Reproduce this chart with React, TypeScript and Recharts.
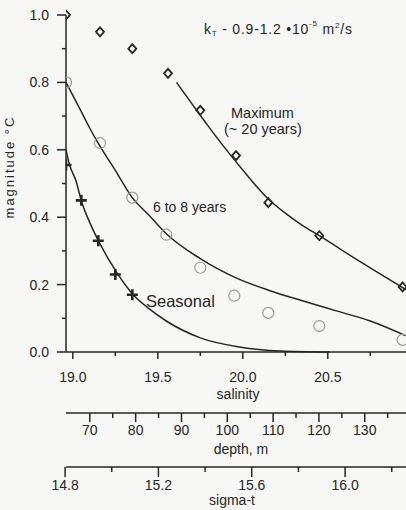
import { ComposedChart, Line, Scatter, XAxis, YAxis } from "recharts";

// tick values for the three stacked bottom scales and the y scale
const salinityTicks = [19.0, 19.25, 19.5, 19.75, 20.0, 20.25, 20.5, 20.75];
const salinityLabels = [19.0, 19.5, 20.0, 20.5];
const depthTicks = [70, 75, 80, 85, 90, 95, 100, 105, 110, 115, 120, 125, 130, 135];
const depthLabels = [70, 80, 90, 100, 110, 120, 130];
const sigmaTicks = [14.8, 15.0, 15.2, 15.4, 15.6, 15.8, 16.0, 16.2];
const sigmaLabels = [14.8, 15.2, 15.6, 16.0];
const magTicks = [0, 0.1, 0.2, 0.3, 0.4, 0.5, 0.6, 0.7, 0.8, 0.9, 1.0];
const magLabels = [0, 0.2, 0.4, 0.6, 0.8, 1.0];

// measured points
const maxSal = [18.96, 19.16, 19.35, 19.56, 19.75, 19.96, 20.15, 20.45, 20.94];
const maxVal = [1.0, 0.95, 0.9, 0.827, 0.717, 0.583, 0.443, 0.345, 0.193];
const midSal = [18.96, 19.16, 19.35, 19.55, 19.75, 19.95, 20.15, 20.45, 20.94];
const midVal = [0.8, 0.62, 0.458, 0.348, 0.25, 0.167, 0.116, 0.077, 0.036];
const seasSal = [18.96, 19.05, 19.15, 19.25, 19.35];
const seasVal = [0.555, 0.45, 0.33, 0.23, 0.17];

// fitted curves
const maxFitSal = [19.61, 19.7, 19.8, 19.9, 20.0, 20.08, 20.15, 20.25, 20.35, 20.45, 20.7, 20.96];
const maxFitVal = [0.8, 0.737, 0.668, 0.602, 0.54, 0.492, 0.454, 0.412, 0.376, 0.345, 0.265, 0.185];
const midFitSal = [18.96, 19.04, 19.1, 19.15, 19.25, 19.35, 19.45, 19.55, 19.75, 19.96, 20.16, 20.35, 20.55, 20.75, 20.96];
const midFitVal = [0.8, 0.723, 0.664, 0.619, 0.539, 0.458, 0.405, 0.351, 0.277, 0.22, 0.182, 0.152, 0.122, 0.092, 0.048];
const seasFitSal = [18.96, 18.98, 19.02, 19.05, 19.1, 19.16, 19.26, 19.35, 19.45, 19.55, 19.75, 19.98, 20.22, 20.51];
const seasFitVal = [0.6, 0.557, 0.506, 0.449, 0.384, 0.321, 0.235, 0.173, 0.128, 0.092, 0.042, 0.015, 0.003, 0.0];

const zip = (xs: number[], ys: number[]) => xs.map((s, i) => ({ s, v: ys[i] }));
// helper rows so the secondary scales get a domain
const depthRows = depthTicks.map((d) => ({ d, v: 0 }));
const sigmaRows = sigmaTicks.map((g) => ({ g, v: 0 }));

const ink = "#262626";
const font = "'Liberation Sans', Arial, sans-serif";

const isIn = (list: number[], v: number) => list.some((l) => Math.abs(l - v) < 1e-6);

const xTick = (labels: number[], major: number, minor: number, dy: number, digits: number) => (props: any) => {
  const { x, y, payload } = props;
  const big = isIn(labels, payload.value);
  return (
    <g>
      <line x1={x} x2={x} y1={y} y2={y + (big ? major : minor)} stroke={ink} strokeWidth={1.5} />
      {big && (
        <text x={x} y={y + dy} textAnchor="middle" fontSize={14} fontFamily={font} fill={ink}>
          {payload.value.toFixed(digits)}
        </text>
      )}
    </g>
  );
};

const yTick = (props: any) => {
  const { x, y, payload } = props;
  const big = isIn(magLabels, payload.value);
  return (
    <g>
      <line x1={x - (big ? 9 : 4)} x2={x} y1={y} y2={y} stroke={ink} strokeWidth={1.5} />
      {big && (
        <text x={x - 17} y={y + 5} textAnchor="end" fontSize={14} fontFamily={font} fill={ink}>
          {payload.value.toFixed(1)}
        </text>
      )}
    </g>
  );
};

const Diamond = (props: any) => {
  const { cx, cy } = props;
  return <path d={`M${cx},${cy - 4.5} L${cx + 4},${cy} L${cx},${cy + 4.5} L${cx - 4},${cy} Z`} fill="none" stroke={ink} strokeWidth={1.8} />;
};
const Ring = (props: any) => <circle cx={props.cx} cy={props.cy} r={5.5} fill="none" stroke="#9a9a9a" strokeWidth={1.2} />;
const Plus = (props: any) => {
  const { cx, cy } = props;
  return <path d={`M${cx - 5.5},${cy} H${cx + 5.5} M${cx},${cy - 5.5} V${cy + 5.5}`} stroke={ink} strokeWidth={2.6} />;
};
const Nothing = () => <g />;

const App = () => {
  return (
    <div style={{ position: "fixed", left: 0, top: 0, width: 406, height: 510, overflow: "hidden", background: "#f7f7f5" }}>
      <ComposedChart width={406} height={510} margin={{ top: 15, right: 0, bottom: 0, left: 0 }}>
        <XAxis
          xAxisId="a_sal"
          type="number"
          dataKey="s"
          domain={[18.96, 20.96]}
          allowDataOverflow
          ticks={salinityTicks}
          interval={0}
          tickSize={0}
          tickMargin={0}
          tickLine={false}
          tick={xTick(salinityLabels, 7, 4, 30, 1)}
          axisLine={{ stroke: ink, strokeWidth: 1.5 }}
          height={61}
          label={{ value: "salinity", position: "insideBottom", offset: 14, dx: 2, fontSize: 14, fontFamily: font, fill: ink }}
        />
        <XAxis
          xAxisId="b_depth"
          type="number"
          dataKey="d"
          domain={[64.8, 139]}
          allowDataOverflow
          ticks={depthTicks}
          interval={0}
          tickSize={0}
          tickMargin={0}
          tickLine={false}
          tick={xTick(depthLabels, 9, 5, 22, 0)}
          axisLine={{ stroke: ink, strokeWidth: 1.5 }}
          height={54}
          label={{ value: "depth, m", position: "insideBottom", offset: 13, dx: 5, fontSize: 14, fontFamily: font, fill: ink }}
        />
        <XAxis
          xAxisId="c_sigma"
          type="number"
          dataKey="g"
          domain={[14.804, 16.261]}
          allowDataOverflow
          ticks={sigmaTicks}
          interval={0}
          tickSize={0}
          tickMargin={0}
          tickLine={false}
          tick={xTick(sigmaLabels, 10, 5, 23, 1)}
          axisLine={{ stroke: ink, strokeWidth: 1.5 }}
          height={43}
          label={{ value: "sigma-t", position: "insideBottom", offset: 5, dx: -4, fontSize: 14, fontFamily: font, fill: ink }}
        />
        <YAxis
          type="number"
          domain={[0, 1]}
          ticks={magTicks}
          interval={0}
          width={66}
          tickSize={0}
          tickMargin={0}
          tickLine={false}
          tick={yTick}
          axisLine={{ stroke: ink, strokeWidth: 1.5 }}
        />
        <Scatter xAxisId="b_depth" data={depthRows} dataKey="v" shape={Nothing} isAnimationActive={false} />
        <Scatter xAxisId="c_sigma" data={sigmaRows} dataKey="v" shape={Nothing} isAnimationActive={false} />
        <Line xAxisId="a_sal" data={zip(maxFitSal, maxFitVal)} dataKey="v" type="monotone" stroke={ink} strokeWidth={1.5} dot={false} isAnimationActive={false} />
        <Line xAxisId="a_sal" data={zip(midFitSal, midFitVal)} dataKey="v" type="monotone" stroke={ink} strokeWidth={1.5} dot={false} isAnimationActive={false} />
        <Line xAxisId="a_sal" data={zip(seasFitSal, seasFitVal)} dataKey="v" type="monotone" stroke={ink} strokeWidth={1.5} dot={false} isAnimationActive={false} />
        <Scatter xAxisId="a_sal" data={zip(maxSal, maxVal)} dataKey="v" shape={Diamond} isAnimationActive={false} />
        <Scatter xAxisId="a_sal" data={zip(midSal, midVal)} dataKey="v" shape={Ring} isAnimationActive={false} />
        <Scatter xAxisId="a_sal" data={zip(seasSal, seasVal)} dataKey="v" shape={Plus} isAnimationActive={false} />
        <text transform="translate(14,167) rotate(-90)" textAnchor="middle" fontSize={13} letterSpacing={2} fontFamily={font} fill={ink}>
          magnitude °C
        </text>
        <text x={204} y={34} fontSize={14} fontFamily={font} fill={ink} letterSpacing={0.8}>
          k<tspan fontSize={8} dy={2}>T</tspan>
          <tspan dy={-2}> - 0.9-1.2 •10</tspan>
          <tspan fontSize={8} dy={-8}>-5</tspan>
          <tspan dy={8}>  m</tspan>
          <tspan fontSize={8} dy={-6}>2</tspan>
          <tspan dy={6}>/s</tspan>
        </text>
        <text x={231} y={118} fontSize={14.5} fontFamily={font} fill={ink}>Maximum</text>
        <text x={224} y={134} fontSize={14.5} fontFamily={font} fill={ink}>(~ 20 years)</text>
        <text x={153} y={212} fontSize={14} fontFamily={font} fill={ink}>6 to 8 years</text>
        <text x={146} y={307} fontSize={16.5} fontFamily={font} fill={ink}>Seasonal</text>
      </ComposedChart>
    </div>
  );
};

export default App;
